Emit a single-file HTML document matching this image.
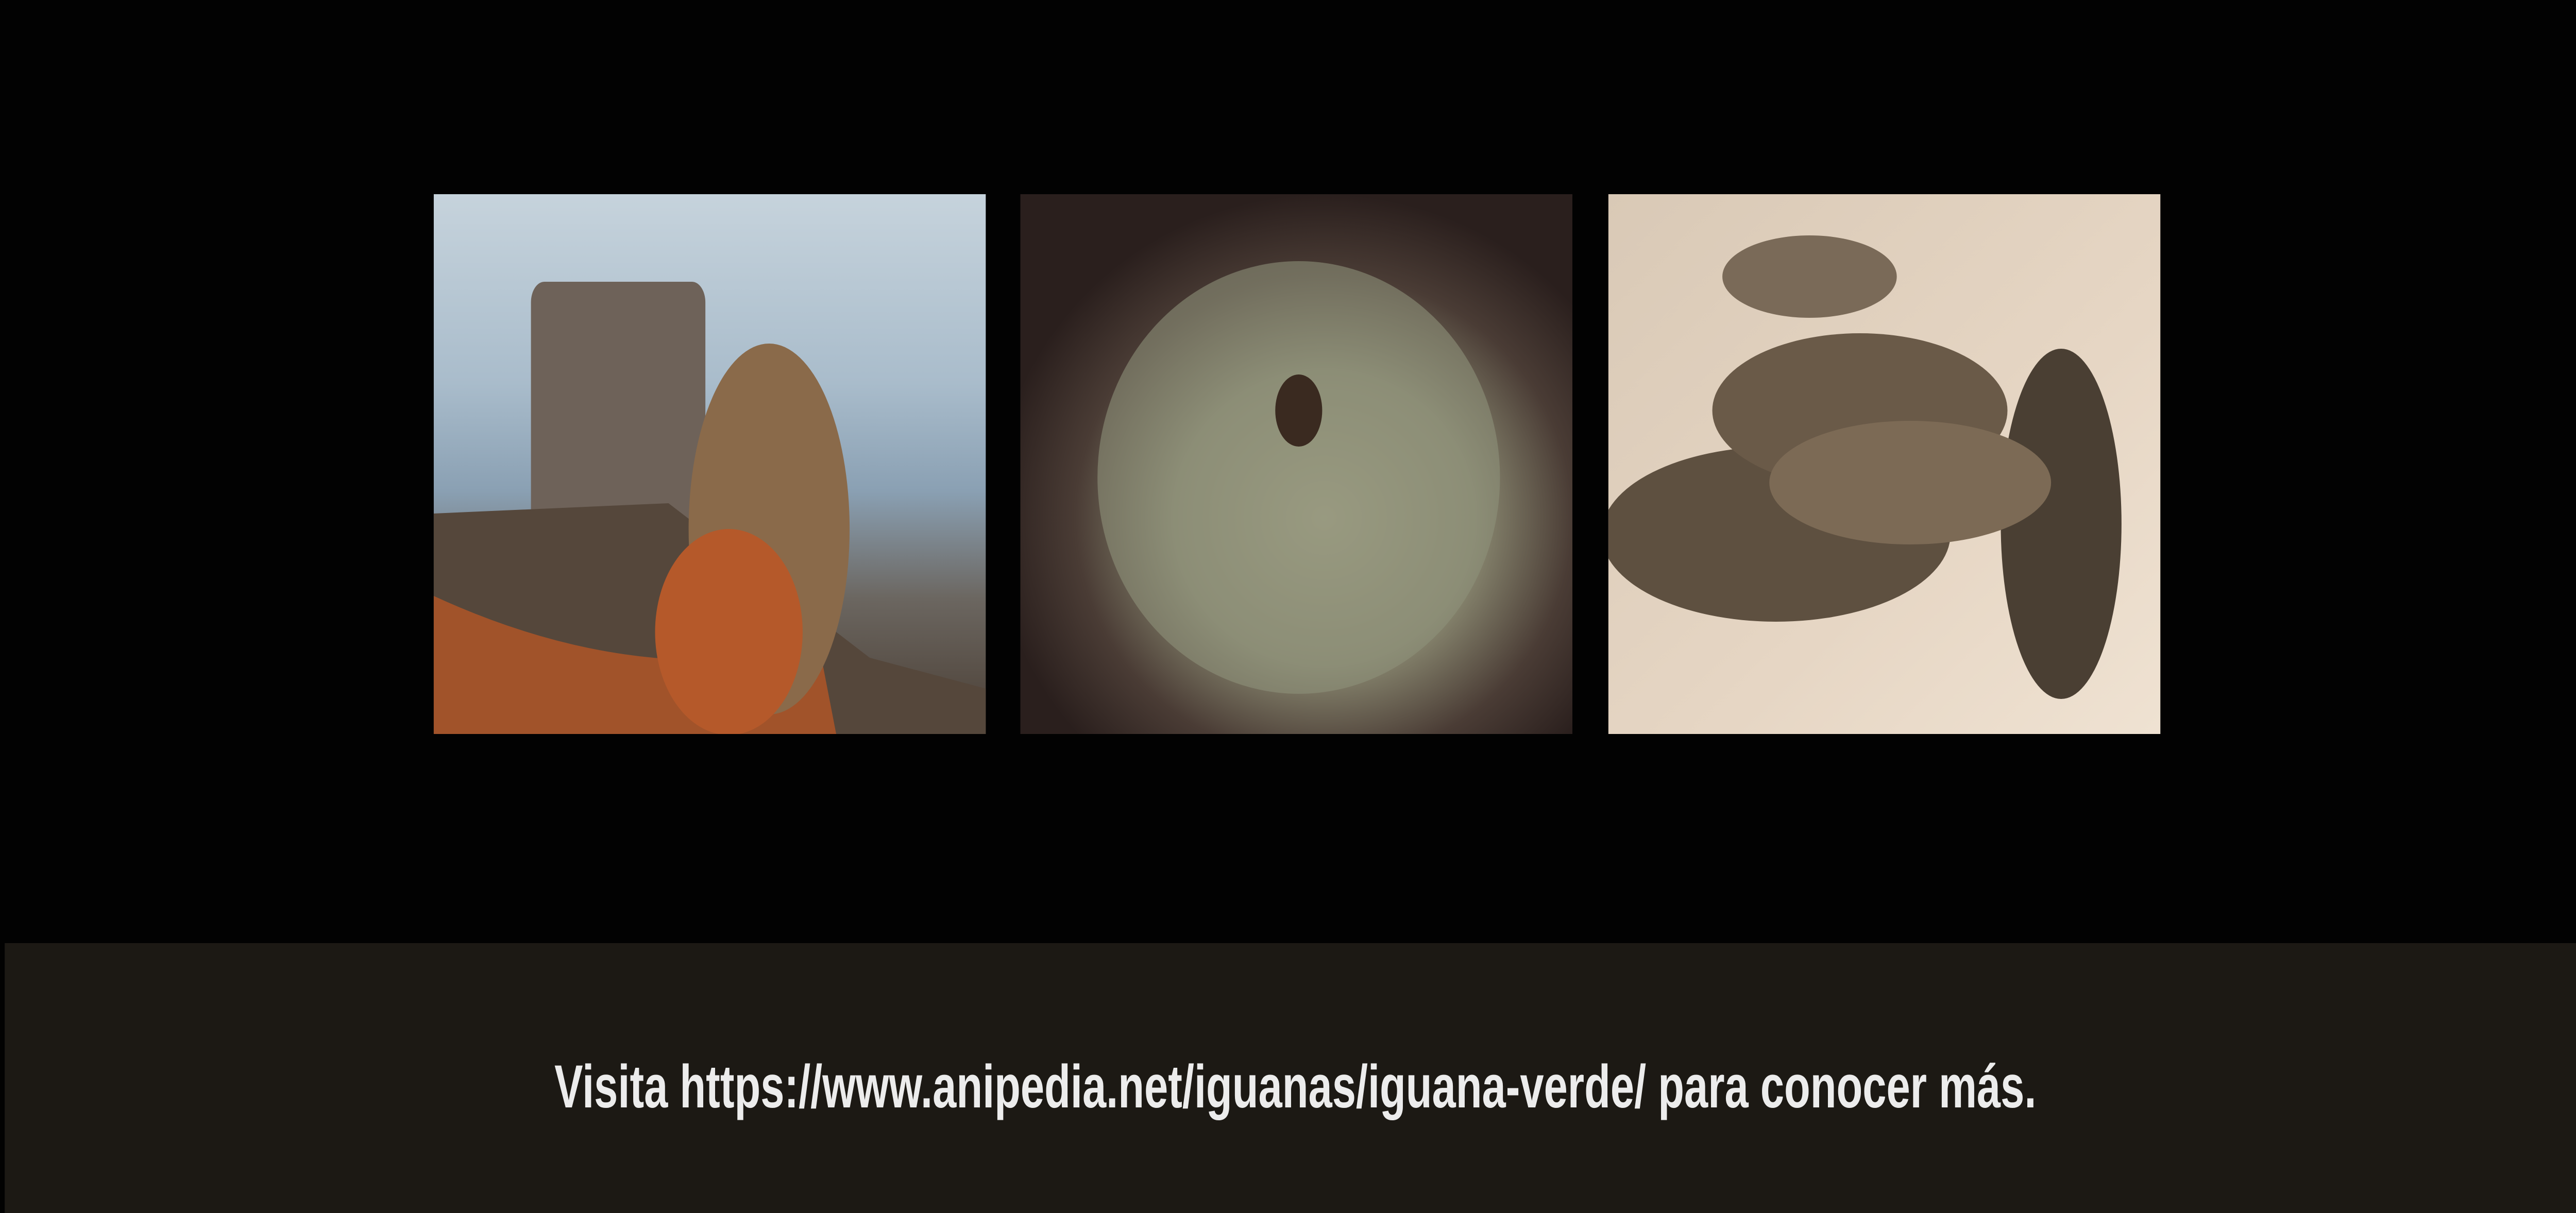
<!DOCTYPE html>
<html><head><meta charset="utf-8"><style>
html,body{margin:0;padding:0;background:#020202;width:100%;height:100%;overflow:hidden}
svg#page{display:block;width:100vw;height:100vh}
</style></head><body>
<svg id="page" viewBox="0 0 7680 2355" preserveAspectRatio="none" xmlns="http://www.w3.org/2000/svg">
<defs>
<linearGradient id="g1" x1="0" y1="0" x2="0" y2="1"><stop offset="0" stop-color="#c6d3dc"/><stop offset="0.35" stop-color="#a9bccb"/><stop offset="0.55" stop-color="#8aa0b3"/><stop offset="0.75" stop-color="#6b6660"/><stop offset="1" stop-color="#4a3e34"/></linearGradient>
<radialGradient id="g2" cx="0.55" cy="0.6" r="0.6"><stop offset="0" stop-color="#a9a78a"/><stop offset="0.45" stop-color="#8b8a72"/><stop offset="0.75" stop-color="#4a3c35"/><stop offset="1" stop-color="#2a1f1d"/></radialGradient>
<linearGradient id="g3" x1="0" y1="0" x2="1" y2="1"><stop offset="0" stop-color="#d9c9b6"/><stop offset="0.6" stop-color="#e6d6c4"/><stop offset="1" stop-color="#efe2d2"/></linearGradient>
<clipPath id="c0"><rect x="0" y="0" width="1646" height="1048"/></clipPath>
</defs>
<g transform="translate(1293,377)"><g clip-path="url(#c0)">
<rect width="1646" height="1048" fill="url(#g1)"/>
<rect x="290" y="170" width="520" height="980" fill="#6e6259" rx="40"/>
<path d="M0 620 L700 600 L1300 900 L1646 960 L1646 1048 L0 1048Z" fill="#55473b"/>
<path d="M0 780 Q600 960 1150 880 L1200 1048 L0 1048Z" fill="#a1532a"/>
<ellipse cx="1000" cy="650" rx="240" ry="360" fill="#8a6a4a"/>
<ellipse cx="880" cy="850" rx="220" ry="200" fill="#b5592a"/>
</g></g>
<g transform="translate(3042,377)"><g clip-path="url(#c0)">
<rect width="1646" height="1048" fill="url(#g2)"/>
<ellipse cx="830" cy="550" rx="600" ry="420" fill="#8e917a" opacity="0.6"/>
<circle cx="830" cy="420" r="70" fill="#3a2a20"/>
</g></g>
<g transform="translate(4795,377)"><g clip-path="url(#c0)">
<rect width="1646" height="1048" fill="url(#g3)"/>
<ellipse cx="500" cy="660" rx="520" ry="170" fill="#5e5040"/>
<ellipse cx="750" cy="420" rx="440" ry="150" fill="#6a5a48"/>
<ellipse cx="600" cy="160" rx="260" ry="80" fill="#7a6a58"/>
<ellipse cx="1350" cy="640" rx="180" ry="340" fill="#4a3f33"/>
<ellipse cx="900" cy="560" rx="420" ry="120" fill="#7c6a55"/>
</g></g>
<rect x="14" y="1831" width="7666" height="524" fill="#1c1914"/>
<text x="1653" y="2150" textLength="4418" lengthAdjust="spacingAndGlyphs" font-family="Liberation Sans, sans-serif" font-weight="bold" font-size="118" fill="#ececec">Visita https://www.anipedia.net/iguanas/iguana-verde/ para conocer más.</text>
</svg>
</body></html>
